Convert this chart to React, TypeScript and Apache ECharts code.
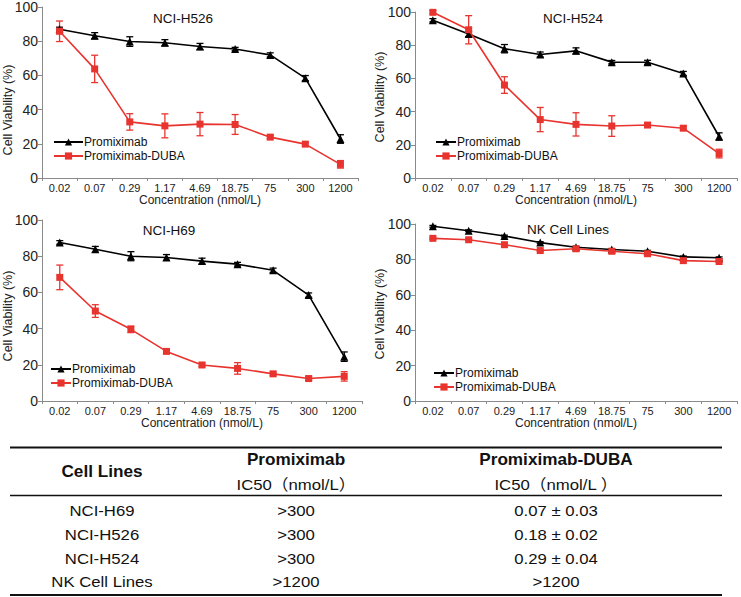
import React, { useEffect, useRef } from "react";
import * as echarts from "echarts";

const concentrations = ["0.02", "0.07", "0.29", "1.17", "4.69", "18.75", "75", "300", "1200"];
const panelTitles = ["NCI-H526", "NCI-H524", "NCI-H69", "NK Cell Lines"];
const seriesNames = ["Promiximab", "Promiximab-DUBA"];
const yAxisTitle = "Cell Viability (%)";
const xAxisTitle = "Concentration (nmol/L)";

// NCI-H526
const h526Prox = [87.0, 83.2, 79.8, 79.1, 76.9, 75.4, 72.0, 58.4, 22.8];
const h526ProxErr = [1.2, 1.8, 2.8, 1.8, 1.8, 1.0, 1.2, 1.5, 2.5];
const h526Duba = [85.8, 63.8, 32.8, 30.5, 31.5, 31.3, 23.9, 19.8, 8.0];
const h526DubaErr = [6.0, 8.0, 4.8, 7.0, 6.8, 5.8, 1.0, 1.0, 2.2];
// NCI-H524
const h524Prox = [95.0, 86.7, 77.9, 74.4, 76.6, 69.8, 69.7, 63.0, 25.0];
const h524ProxErr = [1.0, 1.5, 2.5, 1.5, 1.8, 1.0, 1.2, 1.2, 2.2];
const h524Duba = [99.8, 89.3, 56.0, 35.2, 32.3, 31.3, 31.9, 30.0, 14.7];
const h524DubaErr = [1.0, 8.5, 5.0, 7.3, 7.0, 6.2, 1.2, 1.2, 2.6];
// NCI-H69
const h69Prox = [87.6, 83.8, 80.0, 79.3, 77.3, 75.6, 72.2, 58.5, 24.5];
const h69ProxErr = [1.0, 1.6, 2.5, 1.6, 1.6, 1.0, 1.2, 1.2, 2.6];
const h69Duba = [68.3, 49.7, 39.6, 27.4, 19.9, 18.0, 15.0, 12.4, 13.6];
const h69DubaErr = [6.8, 3.5, 1.8, 1.0, 1.0, 3.2, 1.0, 1.0, 2.6];
// NK Cell Lines
const nkProx = [98.7, 96.2, 93.2, 89.5, 86.9, 85.6, 84.6, 81.4, 80.9];
const nkProxErr = [0.5, 0.5, 0.5, 0.5, 0.5, 0.5, 0.5, 0.5, 0.5];
const nkDuba = [91.9, 91.1, 88.3, 85.0, 86.0, 84.6, 83.2, 79.3, 78.8];
const nkDubaErr = [0.5, 0.5, 0.5, 0.5, 0.5, 0.5, 0.5, 0.5, 0.5];

const yTicks = [0, 20, 40, 60, 80, 100];

const tableHeader = ["Cell Lines", "Promiximab", "Promiximab-DUBA"];
const tableSubHeader = ["", "IC50（nmol/L）", "IC50（nmol/L ）"];
const tableCellLines = ["NCI-H69", "NCI-H526", "NCI-H524", "NK Cell Lines"];
const tableProxIC50 = [">300", ">300", ">300", ">1200"];
const tableDubaIC50 = ["0.07 ± 0.03", "0.18 ± 0.02", "0.29 ± 0.04", ">1200"];

const FONT = "'Liberation Sans', Arial, 'Noto Sans CJK SC', sans-serif";
const BLACK = "#000000";
const RED = "#E8342F";

const panelData = [
  [h526Prox, h526ProxErr, h526Duba, h526DubaErr],
  [h524Prox, h524ProxErr, h524Duba, h524DubaErr],
  [h69Prox, h69ProxErr, h69Duba, h69DubaErr],
  [nkProx, nkProxErr, nkDuba, nkDubaErr],
];

const grids = [
  { left: 42, top: 7, width: 316, height: 171 },
  { left: 415, top: 12, width: 322, height: 166 },
  { left: 42, top: 220, width: 320, height: 181 },
  { left: 415, top: 224, width: 322, height: 177 },
];
const legendPos = [
  { left: 53, top: 136, itemWidth: 29 },
  { left: 435, top: 136, itemWidth: 20 },
  { left: 50, top: 363, itemWidth: 20 },
  { left: 433, top: 367, itemWidth: 20 },
];
const titlePos = [
  [183, 18],
  [573, 18],
  [169, 230],
  [568, 229],
];
const yNamePos = [
  [8, 110],
  [380, 97],
  [8, 316],
  [380, 314],
];

function errorSeries(idx: number, vals: number[], errs: number[], color: string, name: string) {
  return {
    type: "custom",
    name,
    xAxisIndex: idx,
    yAxisIndex: idx,
    z: 1,
    silent: true,
    encode: { x: 0, y: 1 },
    data: vals.map((v, i) => [i, v, errs[i]]),
    renderItem: (_params: any, api: any) => {
      const x = api.value(0);
      const v = api.value(1);
      const e = api.value(2);
      const top = api.coord([x, v + e]);
      const bot = api.coord([x, v - e]);
      const hw = 3.5;
      const style = { stroke: color, lineWidth: 1.3, fill: "none" };
      return {
        type: "group",
        children: [
          { type: "line", shape: { x1: top[0], y1: top[1], x2: bot[0], y2: bot[1] }, style },
          { type: "line", shape: { x1: top[0] - hw, y1: top[1], x2: top[0] + hw, y2: top[1] }, style },
          { type: "line", shape: { x1: bot[0] - hw, y1: bot[1], x2: bot[0] + hw, y2: bot[1] }, style },
        ],
      };
    },
  };
}

function buildOption() {
  const xAxis: any[] = [];
  const yAxis: any[] = [];
  const series: any[] = [];
  const legend: any[] = [];
  const graphic: any[] = [];

  grids.forEach((_g, i) => {
    xAxis.push({
      type: "category",
      gridIndex: i,
      data: concentrations,
      boundaryGap: true,
      name: xAxisTitle,
      nameLocation: "middle",
      nameGap: 15,
      nameTextStyle: { fontFamily: FONT, fontSize: 12, color: "#222" },
      axisLine: { lineStyle: { color: "#8a8a8a", width: 1 } },
      axisTick: { show: true, alignWithLabel: false, length: 3, lineStyle: { color: "#8a8a8a" } },
      axisLabel: { interval: 0, margin: 4, fontFamily: FONT, fontSize: 11, color: "#222" },
      splitLine: { show: false },
    });
    yAxis.push({
      type: "value",
      gridIndex: i,
      min: yTicks[0],
      max: yTicks[yTicks.length - 1],
      interval: 20,
      axisLine: { show: true, lineStyle: { color: "#8a8a8a", width: 1 } },
      axisTick: { show: true, length: 4, lineStyle: { color: "#8a8a8a" } },
      axisLabel: { margin: 4, fontFamily: FONT, fontSize: 14, color: "#222" },
      splitLine: { show: false },
    });

    const [prox, proxErr, duba, dubaErr] = panelData[i];
    series.push(errorSeries(i, prox, proxErr, BLACK, "errProx" + i));
    series.push({
      type: "line",
      name: seriesNames[0],
      xAxisIndex: i,
      yAxisIndex: i,
      data: prox,
      symbol: "triangle",
      symbolSize: 8,
      z: 2,
      lineStyle: { color: BLACK, width: 1.6 },
      itemStyle: { color: BLACK },
    });
    series.push(errorSeries(i, duba, dubaErr, RED, "errDuba" + i));
    series.push({
      type: "line",
      name: seriesNames[1],
      xAxisIndex: i,
      yAxisIndex: i,
      data: duba,
      symbol: "rect",
      symbolSize: 7,
      z: 3,
      lineStyle: { color: RED, width: 1.6 },
      itemStyle: { color: RED },
    });

    legend.push({
      data: seriesNames,
      orient: "vertical",
      left: legendPos[i].left,
      top: legendPos[i].top,
      itemWidth: legendPos[i].itemWidth,
      itemHeight: 9,
      itemGap: 2,
      padding: 0,
      selectedMode: false,
      textStyle: { fontFamily: FONT, fontSize: 12, color: "#111", padding: [0, 0, 0, -4] },
    });

    graphic.push({
      type: "text",
      x: titlePos[i][0],
      y: titlePos[i][1],
      style: {
        text: panelTitles[i],
        fontFamily: FONT,
        fontSize: 13.5,
        fill: "#111",
        textAlign: "center",
        textVerticalAlign: "middle",
      },
    });
    graphic.push({
      type: "text",
      x: yNamePos[i][0],
      y: yNamePos[i][1],
      rotation: Math.PI / 2,
      style: {
        text: yAxisTitle,
        fontFamily: FONT,
        fontSize: 12.5,
        fill: "#222",
        textAlign: "center",
        textVerticalAlign: "middle",
      },
    });
  });

  // Table
  const ruleLeft = 10;
  const ruleRight = 722;
  graphic.push({ type: "line", shape: { x1: ruleLeft, y1: 447.5, x2: ruleRight, y2: 447.5 }, style: { stroke: "#111", lineWidth: 2 } });
  graphic.push({ type: "line", shape: { x1: ruleLeft, y1: 495.5, x2: ruleRight, y2: 495.5 }, style: { stroke: "#111", lineWidth: 1.5 } });
  graphic.push({ type: "line", shape: { x1: ruleLeft, y1: 595, x2: ruleRight, y2: 595 }, style: { stroke: "#111", lineWidth: 2 } });

  const colX = [102, 296, 556];
  const txt = (text: string, x: number, y: number, bold = false) => ({
    type: "text",
    x,
    y,
    scaleX: bold ? 1.04 : 1.08,
    style: {
      text,
      fontFamily: FONT,
      fontSize: bold ? 16.5 : 15.5,
      fontWeight: bold ? "bold" : "normal",
      fill: "#111",
      textAlign: "center",
      textVerticalAlign: "middle",
    },
  });
  graphic.push(txt(tableHeader[0], colX[0], 472, true));
  graphic.push(txt(tableHeader[1], colX[1], 460, true));
  graphic.push(txt(tableHeader[2], colX[2], 460, true));
  graphic.push(txt(tableSubHeader[1], colX[1], 484));
  graphic.push(txt(tableSubHeader[2], colX[2], 484));
  const rowY = [510, 534, 558, 581];
  tableCellLines.forEach((c, r) => {
    graphic.push(txt(c, colX[0], rowY[r]));
    graphic.push(txt(tableProxIC50[r], colX[1], rowY[r]));
    graphic.push(txt(tableDubaIC50[r], colX[2], rowY[r]));
  });

  return {
    animation: false,
    backgroundColor: "#ffffff",
    textStyle: { fontFamily: FONT },
    grid: grids.map((g) => ({ ...g, containLabel: false })),
    xAxis,
    yAxis,
    legend,
    series,
    graphic,
  };
}

export default function App() {
  const ref = useRef<HTMLDivElement>(null);
  useEffect(() => {
    if (!ref.current) return;
    const chart = echarts.init(ref.current, undefined, { renderer: "svg" });
    chart.setOption(buildOption() as any);
    return () => chart.dispose();
  }, []);
  return (
    <div
      ref={ref}
      style={{ position: "fixed", left: 0, top: 0, width: 741, height: 597, background: "#fff" }}
    />
  );
}
